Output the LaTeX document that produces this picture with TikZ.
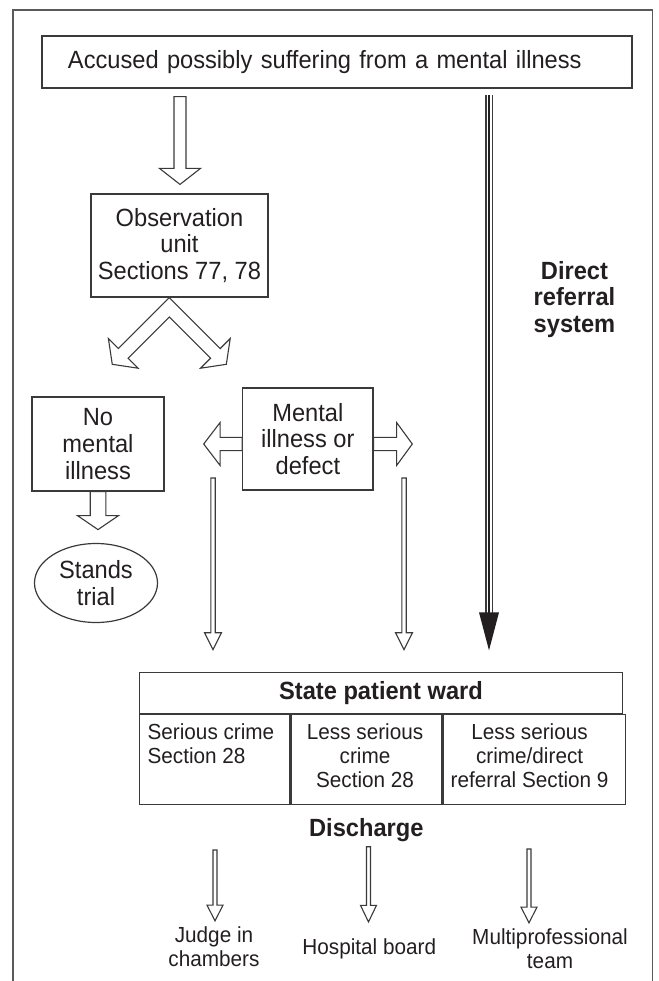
\documentclass[tikz,border=0pt]{standalone}
\usepackage{fontspec}
\setmainfont{Liberation Sans}[FakeStretch=0.95]
\usetikzlibrary{calc,shapes.geometric}
\definecolor{ink}{HTML}{231F20}
\definecolor{linec}{HTML}{3A3A3A}
\definecolor{framec}{HTML}{5A5A5A}
\tikzset{
  box/.style={draw=linec, line width=1.2bp, text=ink, align=center, inner sep=0pt},
  txt/.style={text=ink, align=center, inner sep=0pt},
  big/.style={font=\fontsize{25}{27}\selectfont},
  bigbold/.style={font=\fontsize{25}{27}\selectfont\bfseries},
  small/.style={font=\fontsize{21.9}{24}\selectfont},
  hollow/.style={draw=linec, line width=1.1bp, fill=white, line join=miter},
  frameline/.style={draw=framec, line width=1.8bp},
}
\newcommand{\myblockarrow}[5]{%
  \path (#1) coordinate (ba-a) (#2) coordinate (ba-b);
  \coordinate (ba-h) at ($(ba-b)!#5!(ba-a)$);
  \draw[hollow] ($(ba-a)!#3!90:(ba-b)$) -- ($(ba-h)!#3!90:(ba-b)$) -- ($(ba-h)!#4!90:(ba-b)$) -- (ba-b)
     -- ($(ba-h)!#4!-90:(ba-b)$) -- ($(ba-h)!#3!-90:(ba-b)$) -- ($(ba-a)!#3!-90:(ba-b)$) -- cycle;
}
\begin{document}
\begin{tikzpicture}[x=1bp,y=-1bp]
\useasboundingbox (0,0) rectangle (659,981);
% outer frame (open at the bottom)
\draw[frameline] (13,981) -- (13,10) -- (652.5,10) -- (652.5,981);

% nodes
\node[box, big, text width=538bp, inner xsep=26bp, align=left, minimum height=52bp] (top) at (337,62) {Accused possibly suffering from a mental illness};
\node[box, big, minimum width=177bp, minimum height=103bp] (obs) at (179.5,245.5) {Observation\\unit\\Sections 77, 78};
\node[box, big, minimum width=132bp, minimum height=94bp] (nomi) at (98,444) {No\\mental\\illness};
\node[box, big, minimum width=130.3bp, minimum height=102bp] (mental) at (307.85,439) {Mental\\illness or\\defect};
\node[box, big, ellipse, minimum width=123bp, minimum height=79bp] (trial) at (96,583) {Stands\\trial};
\node[txt, bigbold] (direct) at (574.5,299.5) {Direct\\referral\\system};

% state patient ward table
\node[box, bigbold, minimum width=483.4bp, minimum height=41bp] (wardhead) at (381,692.8) {State patient ward};
\node[box, minimum width=150.7bp, minimum height=90bp, anchor=north west] (c1) at (wardhead.south west) {};
\node[box, minimum width=150.7bp, minimum height=90bp, anchor=north west] (c2) at (c1.north east) {};
\node[box, minimum width=182bp, minimum height=90bp, anchor=north west] (c3) at (c2.north east) {};
\node[txt, small, align=left, anchor=north west] (t1) at ($(c1.north west)+(8.7,10)$) {Serious crime\\Section 28};
\node[txt, small, anchor=north] (t2) at ($(c2.north)+(-1.5,10)$) {Less serious\\crime\\Section 28};
\node[txt, small, anchor=north] (t3) at ($(c3.north)+(-4.5,10)$) {Less serious\\crime/direct\\referral Section 9};

\node[txt, bigbold] (discharge) at (366.3,830) {Discharge};
\node[txt, small] (judge) at (214,947) {Judge in\\chambers};
\node[txt, small] (board) at (369.3,949.3) {Hospital board};
\node[txt, small] (team) at (550,949) {Multiprofessional\\team};

% hollow block arrows
\coordinate (a1s) at ($(obs.north |- top.south)+(0.5,8)$);
\coordinate (a1e) at ($(obs.north)+(0.5,-9)$);
\myblockarrow{a1s}{a1e}{6bp}{20.5bp}{16bp}
\myblockarrow{nomi.south}{$(nomi.south)+(0,38)$}{7.8bp}{20.5bp}{14bp}
\myblockarrow{$(mental.west)+(0,5)$}{$(mental.west)+(-38.4,5)$}{6.6bp}{21.5bp}{16.4bp}
\myblockarrow{$(mental.east)+(0,5)$}{$(mental.east)+(38.7,5)$}{6.6bp}{21.5bp}{15.7bp}

% split arrow below observation unit
\coordinate (apex) at ($(obs.south)+(-10.2,0)$);
\draw[hollow, shift={(apex)}] (0,0) -- (50.91,50.91) -- (60.92,40.91) -- (57.03,66.71) -- (31.22,70.61) -- (41.22,60.60)
   -- (0,19.4) -- (-41.22,60.60) -- (-31.22,70.61) -- (-57.03,66.71) -- (-60.92,40.91) -- (-50.91,50.91) -- cycle;

% narrow arrows to the ward
\coordinate (n1s) at (213,478);
\coordinate (n1e) at ($(n1s |- wardhead.north)+(0,-22)$);
\coordinate (n2s) at (404,478);
\coordinate (n2e) at ($(n2s |- wardhead.north)+(0,-22)$);
\myblockarrow{n1s}{n1e}{2.2bp}{8.5bp}{17bp}
\myblockarrow{n2s}{n2e}{2.2bp}{8.5bp}{17bp}

% direct referral arrow
\coordinate (d1s) at (489,95);
\coordinate (d1e) at ($(d1s |- wardhead.north)+(0,-21.3)$);
\draw[linec, line width=8bp] (d1s) -- ($(d1e)+(0,-36)$);
\draw[white, line width=5bp] ($(d1s)+(0,0.01)$) -- ($(d1e)+(0,-36)$);
\draw[ink, line width=2.6bp] (d1s) -- ($(d1e)+(0,-36)$);
\fill[ink] (d1e) -- ($(d1e)+(-10,-38)$) -- ($(d1e)+(10,-38)$) -- cycle;

% discharge arrows
\coordinate (b1s) at (215,850);
\coordinate (b1e) at ($(judge.north)+(1,-6)$);
\coordinate (b2s) at (368.5,846.7);
\coordinate (b2e) at ($(board.north)+(-0.8,-17)$);
\coordinate (b3s) at (529,849);
\coordinate (b3e) at ($(team.north -| b3s)+(0,-6)$);
\myblockarrow{b1s}{b1e}{2bp}{8bp}{15.7bp}
\myblockarrow{b2s}{b2e}{2bp}{8bp}{16.6bp}
\myblockarrow{b3s}{b3e}{2bp}{8bp}{15.7bp}
\end{tikzpicture}
\end{document}
